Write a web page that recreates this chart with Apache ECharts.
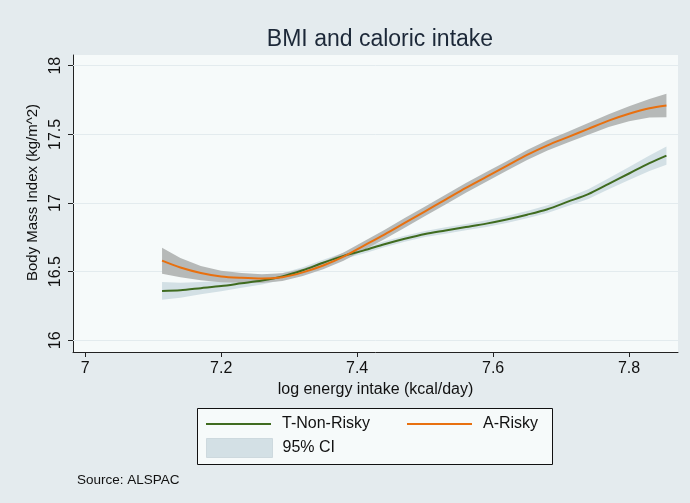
<!DOCTYPE html>
<html>
<head>
<meta charset="utf-8">
<script src="https://cdn.jsdelivr.net/npm/echarts@6/dist/echarts.min.js"></script>
<style>
html,body{margin:0;padding:0;background:#e4ebee;}
#c{width:690px;height:503px;}
</style>
</head>
<body>
<div id="c"></div>
<script>
// log energy intake (kcal/day)
const xVals = [7.113, 7.14, 7.17, 7.20, 7.23, 7.26, 7.29, 7.32, 7.35, 7.38, 7.41, 7.44, 7.47,
               7.50, 7.53, 7.56, 7.59, 7.62, 7.65, 7.68, 7.71, 7.74, 7.77, 7.80, 7.83, 7.855];
// T-Non-Risky fitted BMI and 95% CI
const nonRisky   = [16.36, 16.365, 16.38, 16.395, 16.415, 16.435, 16.465, 16.51, 16.565, 16.615, 16.655, 16.70, 16.74,
                    16.775, 16.80, 16.825, 16.85, 16.88, 16.915, 16.955, 17.01, 17.065, 17.14, 17.215, 17.29, 17.345];
const nonRiskyLo = [16.295, 16.31, 16.335, 16.357, 16.383, 16.407, 16.44, 16.487, 16.543, 16.593, 16.633, 16.678, 16.718,
                    16.753, 16.777, 16.802, 16.826, 16.855, 16.889, 16.927, 16.979, 17.03, 17.10, 17.168, 17.234, 17.278];
const nonRiskyHi = [16.425, 16.42, 16.425, 16.433, 16.447, 16.463, 16.49, 16.533, 16.587, 16.637, 16.677, 16.722, 16.762,
                    16.797, 16.823, 16.848, 16.874, 16.905, 16.941, 16.983, 17.041, 17.10, 17.18, 17.262, 17.346, 17.412];
// A-Risky fitted BMI and 95% CI
const risky   = [16.58, 16.53, 16.49, 16.465, 16.455, 16.45, 16.46, 16.495, 16.545, 16.61, 16.69, 16.77, 16.855,
                 16.94, 17.025, 17.11, 17.19, 17.27, 17.35, 17.42, 17.48, 17.54, 17.60, 17.65, 17.69, 17.71];
const riskyLo = [16.485, 16.46, 16.438, 16.423, 16.419, 16.418, 16.432, 16.469, 16.518, 16.58, 16.658, 16.736, 16.82,
                 16.905, 16.99, 17.075, 17.155, 17.235, 17.314, 17.383, 17.441, 17.498, 17.554, 17.595, 17.623, 17.625];
const riskyHi = [16.675, 16.60, 16.542, 16.507, 16.491, 16.482, 16.488, 16.521, 16.572, 16.64, 16.722, 16.804, 16.89,
                 16.975, 17.06, 17.145, 17.225, 17.305, 17.386, 17.457, 17.519, 17.582, 17.646, 17.705, 17.757, 17.795];

const xTicks = [7, 7.2, 7.4, 7.6, 7.8];
const yTicks = [16, 16.5, 17, 17.5, 18];

const pairs = (ys) => xVals.map((x, i) => [x, ys[i]]);

const C_GREEN = '#3f6b1f';
const C_ORANGE = '#e8700f';
const C_CI_G = '#d3e0e5';
const C_CI_O = '#b6b9b8';
const FONT = 'Liberation Sans, Arial, Helvetica, sans-serif';

// band polygon drawn through the chart's own scales (api.coord)
function bandRenderer(lo, hi, color) {
  return function (params, api) {
    const pts = [];
    for (let i = 0; i < xVals.length; i++) pts.push(api.coord([xVals[i], hi[i]]));
    for (let i = xVals.length - 1; i >= 0; i--) pts.push(api.coord([xVals[i], lo[i]]));
    return {
      type: 'polygon',
      shape: {points: pts},
      style: {fill: color, stroke: null}
    };
  };
}

const chart = echarts.init(document.getElementById('c'), null, {renderer: 'canvas'});
chart.setOption({
  animation: false,
  backgroundColor: '#e4ebee',
  textStyle: {fontFamily: FONT},
  title: {
    text: 'BMI and caloric intake',
    left: 375, top: 23, textAlign: 'center',
    textStyle: {fontSize: 23, fontWeight: 'normal', color: '#1c2838', fontFamily: FONT}
  },
  grid: {left: 73, top: 55, width: 605, height: 297, show: true, backgroundColor: '#f6fafa', borderWidth: 0, containLabel: false},
  xAxis: {
    type: 'value', min: 6.982, max: 7.872,
    name: 'log energy intake (kcal/day)', nameLocation: 'middle', nameGap: 25,
    nameTextStyle: {fontSize: 16, color: '#111', fontFamily: FONT},
    axisLine: {onZero: false, lineStyle: {color: '#222', width: 1}},
    axisTick: {show: true, length: 5, lineStyle: {color: '#222'}, customValues: xTicks},
    axisLabel: {fontSize: 16, color: '#111', margin: 9, customValues: xTicks, fontFamily: FONT},
    splitLine: {show: false}
  },
  yAxis: {
    type: 'value', min: 15.915, max: 18.078,
    name: 'Body Mass Index (kg/m^2)', nameLocation: 'middle', nameGap: 32, nameRotate: 90,
    nameTextStyle: {fontSize: 15, color: '#111', padding: [0, 0, 0, 22], fontFamily: FONT},
    axisLine: {show: true, onZero: false, lineStyle: {color: '#222', width: 1}},
    axisTick: {show: true, length: 5, lineStyle: {color: '#222'}, customValues: yTicks},
    axisLabel: {fontSize: 16, color: '#111', rotate: 90, margin: 9, customValues: yTicks, fontFamily: FONT},
    splitLine: {show: false}
  },
  legend: [
    {data: [{name: 'T-Non-Risky', icon: 'rect'}], left: 206, top: 414, padding: 0, itemWidth: 65, itemHeight: 2,
     selectedMode: false, textStyle: {fontSize: 16, color: '#111', lineHeight: 20, padding: [0, 0, 0, 6], fontFamily: FONT}},
    {data: [{name: 'A-Risky', icon: 'rect'}], left: 407, top: 414, padding: 0, itemWidth: 65, itemHeight: 2,
     selectedMode: false, textStyle: {fontSize: 16, color: '#111', lineHeight: 20, padding: [0, 0, 0, 6], fontFamily: FONT}},
    {data: [{name: '95% CI', icon: 'rect', itemStyle: {color: C_CI_G, borderColor: '#cdd9de', borderWidth: 1}}],
     left: 206, top: 438, padding: 0, itemWidth: 66, itemHeight: 19,
     selectedMode: false, textStyle: {fontSize: 16, color: '#111', lineHeight: 20, padding: [0, 0, 0, 5], fontFamily: FONT}}
  ],
  graphic: [
    {type: 'rect', z: 0, shape: {x: 197.5, y: 408.5, width: 355, height: 56},
     style: {fill: '#f6fafa', stroke: '#111', lineWidth: 1}},
    {type: 'text', x: 77, y: 480, style: {text: 'Source: ALSPAC', fontSize: 13.5, fill: '#111',
     fontFamily: FONT, verticalAlign: 'middle', align: 'left'}}
  ],
  series: [
    {name: 'grid', type: 'line', data: [], silent: true, z: 1,
     markLine: {silent: true, symbol: 'none', label: {show: false}, z: 1,
       lineStyle: {color: '#e3ebee', width: 1, type: 'solid'},
       data: yTicks.map(v => ({yAxis: v}))}},
    {name: '95% CI', type: 'custom', data: [[xVals[0], nonRisky[0]]], silent: true, z: 2,
     color: C_CI_G, itemStyle: {color: C_CI_G},
     renderItem: bandRenderer(nonRiskyLo, nonRiskyHi, C_CI_G)},
    {name: 'A-Risky CI', type: 'custom', data: [[xVals[0], risky[0]]], silent: true, z: 2,
     color: C_CI_O, itemStyle: {color: C_CI_O},
     renderItem: bandRenderer(riskyLo, riskyHi, C_CI_O)},
    {name: 'T-Non-Risky', type: 'line', data: pairs(nonRisky), showSymbol: false, smooth: 0.3, z: 3,
     color: C_GREEN, lineStyle: {color: C_GREEN, width: 2}},
    {name: 'A-Risky', type: 'line', data: pairs(risky), showSymbol: false, smooth: 0.3, z: 3,
     color: C_ORANGE, lineStyle: {color: C_ORANGE, width: 2}}
  ]
});
</script>
</body>
</html>
